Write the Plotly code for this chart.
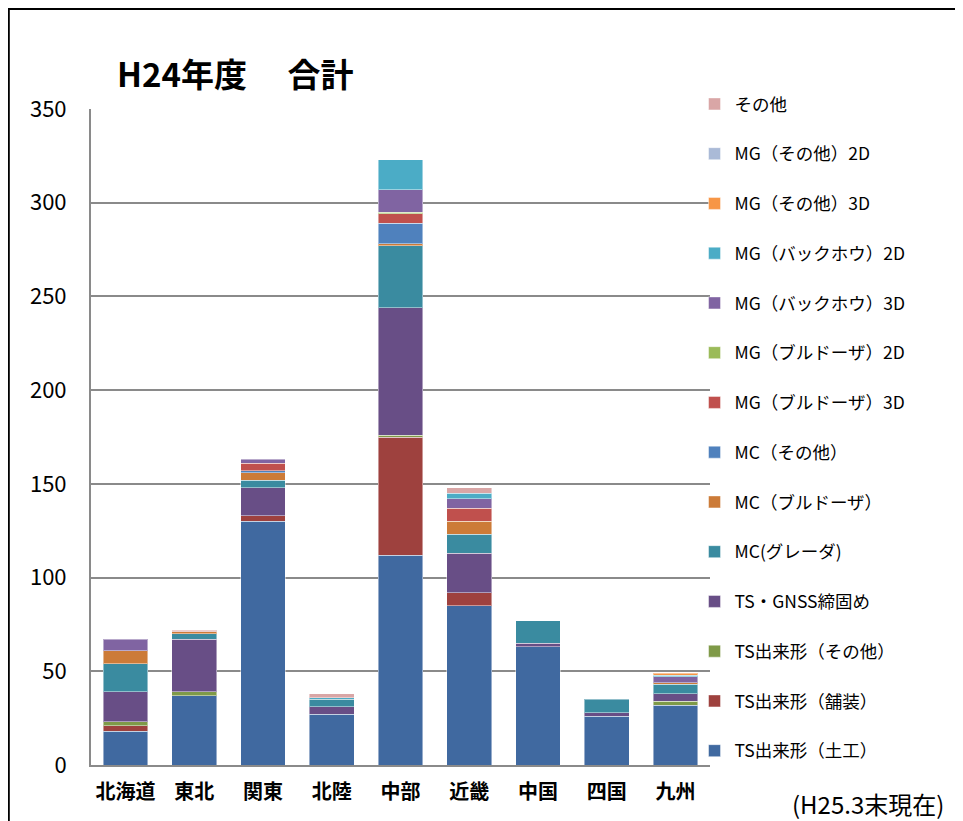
import plotly.graph_objects as go

regions = ["北海道", "東北", "関東", "北陸", "中部", "近畿", "中国", "四国", "九州"]

# series, bottom to top
ts_doko = [18, 37, 130, 27, 112, 85, 63, 26, 32]          # TS出来形（土工）
ts_hoso = [3, 0, 3, 0, 63, 7, 0, 0, 0]                    # TS出来形（舗装）
ts_sonota = [2, 2, 0, 0, 1, 0, 0, 0, 2]                   # TS出来形（その他）
ts_gnss = [16, 28, 15, 4, 68, 21, 2, 2, 4]                # TS・GNSS締固め
mc_grader = [15, 3, 4, 4, 33, 10, 12, 7, 5]               # MC(グレーダ)
mc_bull = [7, 1, 4, 0, 1, 7, 0, 0, 1]                     # MC（ブルドーザ）
mc_sonota = [0, 0, 1, 0, 11, 0, 0, 0, 0]                  # MC（その他）
mg_bull_3d = [0, 0, 4, 0, 5, 7, 0, 0, 0]                  # MG（ブルドーザ）3D
mg_bull_2d = [0, 0, 0, 0, 1, 0, 0, 0, 0]                  # MG（ブルドーザ）2D
mg_bh_3d = [6, 0, 2, 0, 12, 5, 0, 0, 3]                   # MG（バックホウ）3D
mg_bh_2d = [0, 0, 0, 1, 16, 3, 0, 0, 1]                   # MG（バックホウ）2D
mg_sonota_3d = [0, 0, 0, 0, 0, 0, 0, 0, 1]                # MG（その他）3D
mg_sonota_2d = [0, 0, 0, 0, 0, 0, 0, 0, 0]                # MG（その他）2D
sonota = [0, 1, 0, 2, 0, 3, 0, 0, 0]                      # その他

series_names = [
    "TS出来形（土工）", "TS出来形（舗装）", "TS出来形（その他）", "TS・GNSS締固め",
    "MC(グレーダ)", "MC（ブルドーザ）", "MC（その他）", "MG（ブルドーザ）3D",
    "MG（ブルドーザ）2D", "MG（バックホウ）3D", "MG（バックホウ）2D",
    "MG（その他）3D", "MG（その他）2D", "その他",
]
series_values = [
    ts_doko, ts_hoso, ts_sonota, ts_gnss, mc_grader, mc_bull, mc_sonota,
    mg_bull_3d, mg_bull_2d, mg_bh_3d, mg_bh_2d, mg_sonota_3d, mg_sonota_2d, sonota,
]
series_colors = [
    "#4069A0", "#9E413E", "#7F9A48", "#684E86", "#3A8BA0", "#CC7B38", "#4F81BD",
    "#C0504D", "#9BBB59", "#8064A2", "#4BACC6", "#F79646", "#AABAD7", "#D9A6A6",
]

JP = "Noto Sans CJK JP"

n = len(series_names)
fig = go.Figure()
for i, (name, vals, col) in enumerate(zip(series_names, series_values, series_colors)):
    fig.add_trace(go.Bar(
        x=regions,
        y=[v if v else None for v in vals],
        name=name,
        marker=dict(color=col, line=dict(color="rgba(255,255,255,0.45)", width=1)),
        legendgroup="g%d" % i,
        legendrank=100 + (n - i),
    ))

fig.update_layout(
    barmode="stack",
    bargap=0.35,
    width=955,
    height=813,
    margin=dict(l=83, r=253, t=101, b=56),
    paper_bgcolor="white",
    plot_bgcolor="white",
    font=dict(family=JP, color="black"),
    showlegend=True,
    legend=dict(
        x=0.975, xanchor="left",
        y=1.035, yanchor="top",
        traceorder="grouped",
        tracegroupgap=24,
        maxheight=780,
        font=dict(family=JP, size=17.5, color="black"),
        bgcolor="rgba(0,0,0,0)",
    ),
    xaxis=dict(
        showline=True, linecolor="#8a8a8a", linewidth=2,
        tickfont=dict(family=JP, size=20, color="black", weight="bold"),
        ticks="", showgrid=False, ticklabelstandoff=8,
    ),
    yaxis=dict(
        range=[0, 350], dtick=50,
        showline=True, linecolor="#8a8a8a", linewidth=2,
        showgrid=True, gridcolor="#8a8a8a", gridwidth=2,
        tickfont=dict(family=JP, size=22, color="black"),
        ticks="", ticklabelstandoff=18,
        zeroline=False,
    ),
    annotations=[
        dict(text="<b>H24年度　 合計</b>", xref="paper", yref="paper",
             x=0.039, y=1.055, xanchor="left", yanchor="middle",
             showarrow=False, font=dict(family=JP, size=33, color="black")),
        dict(text="(H25.3末現在)", xref="paper", yref="paper",
             x=1.381, y=-0.058, xanchor="right", yanchor="middle",
             showarrow=False, font=dict(family=JP, size=24, color="black")),
    ],
    shapes=[
        dict(type="rect", xref="paper", yref="paper",
             x0=-0.1328, x1=1.6, y0=-0.2, y1=1.1524,
             line=dict(color="black", width=2), fillcolor="rgba(0,0,0,0)", layer="below"),
    ],
)

fig.write_html("out.html")
